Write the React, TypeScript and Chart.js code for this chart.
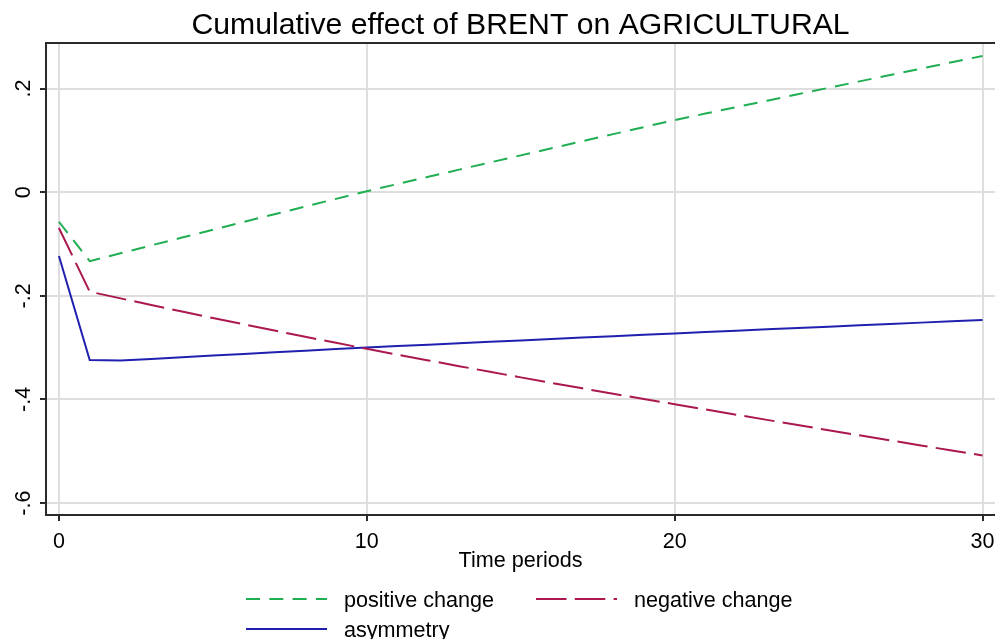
import React, { useEffect, useRef } from 'react';
import { Chart, registerables } from 'chart.js';

Chart.register(...registerables);

const titleText = 'Cumulative effect of BRENT on AGRICULTURAL';
const xAxisTitle = 'Time periods';

const periods = [0, 1, 2, 3, 4, 5, 6, 7, 8, 9, 10, 11, 12, 13, 14, 15, 16, 17, 18, 19, 20, 21, 22, 23, 24, 25, 26, 27, 28, 29, 30];

const positiveChange = [
  -0.057, -0.133, -0.1178, -0.1026, -0.0875, -0.0724, -0.0574, -0.0425, -0.0276, -0.0128,
  0.002, 0.0159, 0.0298, 0.0436, 0.0574, 0.0711, 0.0848, 0.0985, 0.1121, 0.1257,
  0.1393, 0.1518, 0.1643, 0.1767, 0.1891, 0.2015, 0.2139, 0.2262, 0.2385, 0.2508,
  0.263,
];

const negativeChange = [
  -0.069, -0.192, -0.2049, -0.2177, -0.2303, -0.2427, -0.255, -0.2671, -0.279, -0.2907,
  -0.3022, -0.3135, -0.3247, -0.3357, -0.3466, -0.3574, -0.368, -0.3785, -0.3889, -0.3991,
  -0.4092, -0.4193, -0.4294, -0.4394, -0.4494, -0.4593, -0.4692, -0.479, -0.4888, -0.4985,
  -0.508,
];

const asymmetry = [
  -0.123, -0.324, -0.325, -0.3217, -0.3185, -0.3153, -0.3121, -0.309, -0.3059, -0.3028,
  -0.2998, -0.297, -0.2942, -0.2914, -0.2887, -0.286, -0.2833, -0.2806, -0.2779, -0.2752,
  -0.2725, -0.2699, -0.2673, -0.2647, -0.2621, -0.2595, -0.2569, -0.2543, -0.2517, -0.2491,
  -0.2465,
];

const xTickValues = [0, 10, 20, 30];
const xTickLabels = ['0', '10', '20', '30'];
const yTickValues = [-0.6, -0.4, -0.2, 0, 0.2];
const yTickLabels = ['-.6', '-.4', '-.2', '0', '.2'];

const seriesNames = ['positive change', 'negative change', 'asymmetry'];
const seriesColors = ['#1fae52', '#ab174e', '#2020b0'];
const seriesDashes: number[][] = [[14, 9.3], [30.5, 8.3], []];

const FONT = '"Liberation Sans", Arial, Helvetica, sans-serif';

const stataPlugin = {
  id: 'stataDecor',
  afterDraw(chart: any) {
    const { ctx, chartArea, scales } = chart;
    const midX = (chartArea.left + chartArea.right) / 2;
    ctx.save();
    // top border of plot region
    ctx.strokeStyle = '#2a2a2a';
    ctx.lineWidth = 2;
    ctx.setLineDash([]);
    ctx.beginPath();
    ctx.moveTo(chartArea.left, chartArea.top);
    ctx.lineTo(chartArea.right, chartArea.top);
    ctx.stroke();

    // title
    ctx.fillStyle = '#000';
    ctx.font = `30.2px ${FONT}`;
    ctx.textAlign = 'center';
    ctx.textBaseline = 'alphabetic';
    ctx.fillText(titleText, midX, 34);

    // rotated y tick labels
    ctx.font = `21.5px ${FONT}`;
    const yScale = scales.y;
    yTickValues.forEach((v, i) => {
      const py = yScale.getPixelForValue(v);
      ctx.save();
      ctx.translate(29.5, py);
      ctx.rotate(-Math.PI / 2);
      ctx.textAlign = 'center';
      ctx.textBaseline = 'alphabetic';
      ctx.fillText(yTickLabels[i], 0, 0);
      ctx.restore();
    });

    // x tick labels
    const xScale = scales.x;
    ctx.textAlign = 'center';
    xTickValues.forEach((v, i) => {
      ctx.fillText(xTickLabels[i], xScale.getPixelForValue(v), 547.5);
    });

    // x axis title
    ctx.font = `21.6px ${FONT}`;
    ctx.fillText(xAxisTitle, midX, 567);

    // legend (two columns)
    const colX = [246, 536];
    const rowY = [599, 629];
    ctx.font = `21.6px ${FONT}`;
    ctx.textAlign = 'left';
    seriesNames.forEach((name, i) => {
      const cx = colX[i % 2];
      const cy = rowY[Math.floor(i / 2)];
      ctx.strokeStyle = seriesColors[i];
      ctx.lineWidth = 2;
      ctx.setLineDash(seriesDashes[i]);
      ctx.beginPath();
      ctx.moveTo(cx, cy);
      ctx.lineTo(cx + 81, cy);
      ctx.stroke();
      ctx.setLineDash([]);
      ctx.fillStyle = '#000';
      ctx.fillText(name, cx + 98, cy + 7.5);
    });
    ctx.restore();
  },
};

export default function App() {
  const canvasRef = useRef<HTMLCanvasElement | null>(null);

  useEffect(() => {
    document.body.style.margin = '0';
    const canvas = canvasRef.current;
    if (!canvas) return;
    const makeSeries = (vals: number[]) => periods.map((p, i) => ({ x: p, y: vals[i] }));
    const seriesValues = [positiveChange, negativeChange, asymmetry];

    const chart = new Chart(canvas, {
      type: 'line',
      data: {
        datasets: seriesNames.map((name, i) => ({
          label: name,
          data: makeSeries(seriesValues[i]),
          borderColor: seriesColors[i],
          backgroundColor: seriesColors[i],
          borderWidth: 2,
          borderDash: seriesDashes[i],
          pointRadius: 0,
          tension: 0,
          fill: false,
        })),
      },
      options: {
        responsive: false,
        animation: false,
        devicePixelRatio: 1,
        layout: { padding: { top: 43, left: 0, right: 0, bottom: 66 } },
        plugins: {
          legend: { display: false },
          title: { display: false },
          tooltip: { enabled: false },
        },
        scales: {
          x: {
            type: 'linear',
            min: -0.42,
            max: 30.406,
            afterBuildTicks: (scale: any) => {
              scale.ticks = xTickValues.map((v) => ({ value: v }));
            },
            afterFit: (scale: any) => {
              scale.height = 58;
            },
            ticks: { display: false },
            grid: {
              color: '#dedede',
              lineWidth: 2,
              drawTicks: true,
              tickLength: 6,
              tickColor: '#2a2a2a',
              tickWidth: 2,
            },
            border: { color: '#2a2a2a', width: 2 },
          },
          y: {
            type: 'linear',
            min: -0.623,
            max: 0.288,
            afterBuildTicks: (scale: any) => {
              scale.ticks = yTickValues.map((v) => ({ value: v }));
            },
            afterFit: (scale: any) => {
              scale.width = 46;
            },
            ticks: { display: false },
            grid: {
              color: '#dedede',
              lineWidth: 2,
              drawTicks: true,
              tickLength: 6,
              tickColor: '#2a2a2a',
              tickWidth: 2,
            },
            border: { color: '#2a2a2a', width: 2 },
          },
        },
      },
      plugins: [stataPlugin],
    } as any);

    return () => {
      chart.destroy();
    };
  }, []);

  return (
    <div style={{ width: 995, height: 639, background: '#fff' }}>
      <canvas ref={canvasRef} width={995} height={639} style={{ display: 'block' }} />
    </div>
  );
}
